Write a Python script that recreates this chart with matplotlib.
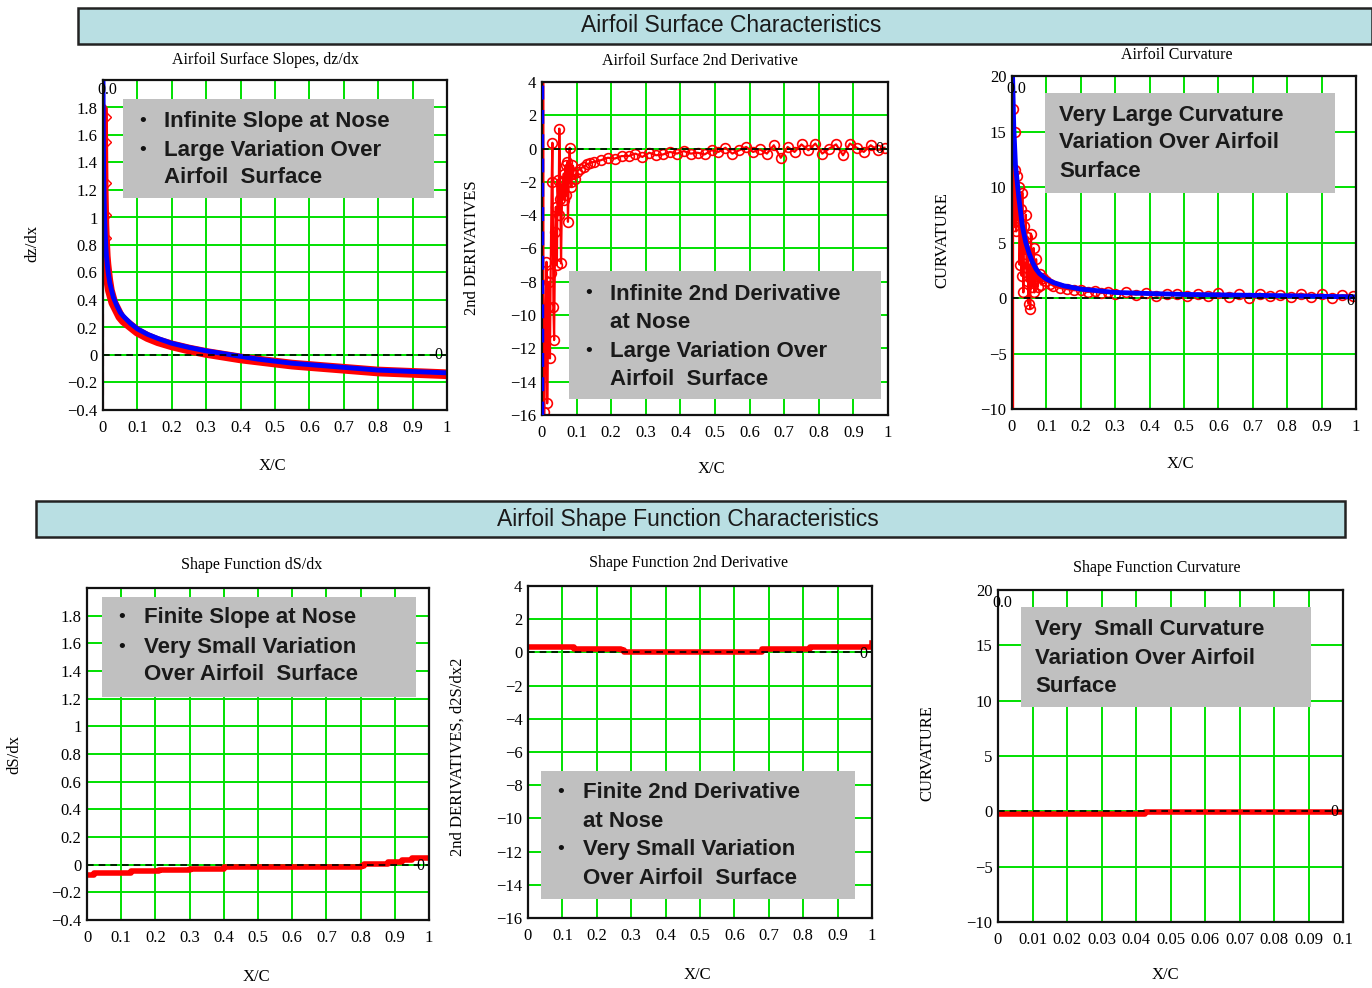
import matplotlib
matplotlib.use("Agg")
import matplotlib.pyplot as plt
from matplotlib.patches import Rectangle

W, H = 1372, 988
fig = plt.figure(figsize=(W / 100, H / 100), dpi=100)
fig.patch.set_facecolor("white")

SERIF = ["Liberation Serif", "DejaVu Serif"]
SANS = ["Liberation Sans", "DejaVu Sans"]
GREEN = "#00e000"
RED = "#ff0000"
BLUE = "#0000ff"
BOXGRAY = "#c0c0c0"
BANNER = "#b9dfe3"

# ---------------- data ----------------
# Panel 1: airfoil surface slopes dz/dx
slope_x = [0.0, 0.001, 0.002, 0.004, 0.006, 0.008, 0.01, 0.015, 0.02, 0.03, 0.04, 0.05,
           0.06, 0.08, 0.10, 0.13, 0.16, 0.20, 0.25, 0.30, 0.35, 0.40, 0.45, 0.50,
           0.55, 0.60, 0.65, 0.70, 0.75, 0.80, 0.85, 0.90, 0.95, 1.00]
slope_fit = [2.05, 1.60, 1.30, 1.05, 0.90, 0.80, 0.72, 0.60, 0.52, 0.42, 0.36, 0.31,
             0.28, 0.23, 0.19, 0.15, 0.12, 0.085, 0.055, 0.03, 0.01, -0.01, -0.03, -0.045,
             -0.06, -0.07, -0.08, -0.09, -0.10, -0.11, -0.115, -0.12, -0.125, -0.13]
slope_data = [1.80, 1.45, 1.20, 0.95, 0.82, 0.72, 0.66, 0.55, 0.47, 0.38, 0.33, 0.28,
              0.25, 0.21, 0.17, 0.13, 0.10, 0.07, 0.04, 0.015, -0.005, -0.025, -0.04, -0.055,
              -0.07, -0.08, -0.09, -0.10, -0.11, -0.12, -0.125, -0.13, -0.135, -0.14]
slope_nose_x = [0.008, 0.008, 0.008, 0.008, 0.008]
slope_nose_y = [1.73, 1.55, 1.25, 1.02, 0.85]

# Panel 2: airfoil surface 2nd derivative
d2_x = [0.004, 0.004, 0.007, 0.010, 0.013, 0.015, 0.018, 0.020, 0.023, 0.025, 0.028,
        0.030, 0.033, 0.035, 0.038, 0.040, 0.043, 0.045, 0.048, 0.050, 0.053, 0.055,
        0.058, 0.060, 0.063, 0.065, 0.068, 0.070, 0.073, 0.075, 0.078, 0.080, 0.083,
        0.085, 0.088, 0.090, 0.095, 0.100, 0.11, 0.12, 0.13, 0.14, 0.15, 0.17, 0.19,
        0.21, 0.23, 0.25, 0.27, 0.29, 0.31, 0.33, 0.35, 0.37, 0.39, 0.41, 0.43, 0.45,
        0.47, 0.49, 0.51, 0.53, 0.55, 0.57, 0.59, 0.61, 0.63, 0.65, 0.67, 0.69, 0.71,
        0.73, 0.75, 0.77, 0.79, 0.81, 0.83, 0.85, 0.87, 0.89, 0.91, 0.93, 0.95, 0.97,
        0.99]
d2_y = [30.0, -40.0, -15.8, -9.8, -6.8, -15.3, -9.5, -8.0, -12.6, -7.5, -2.0,
        0.35, -9.5, -11.5, -5.0, -3.5, -7.0, -1.9, -4.0, 1.2, -3.0, -6.9,
        -2.5, -2.0, -1.5, -3.1, -1.0, -2.8, -0.8, -4.4, -1.2, 0.05, -2.0,
        -2.3, -1.0, -1.5, -1.8, -1.4, -1.2, -1.1, -0.95, -0.85, -0.8, -0.7, -0.55,
        -0.6, -0.45, -0.45, -0.3, -0.5, -0.25, -0.4, -0.35, -0.2, -0.3, -0.15, -0.3, -0.25,
        -0.35, -0.1, -0.2, 0.05, -0.3, -0.1, 0.1, -0.2, -0.05, -0.3, 0.2, -0.55, 0.1,
        -0.2, 0.25, -0.1, 0.3, -0.3, 0.0, 0.25, -0.4, 0.3, 0.05, -0.2, 0.2, -0.1,
        0.05]

# Panel 3: airfoil curvature
curv_x = [0.0, 0.002, 0.005, 0.01, 0.015, 0.02, 0.03, 0.04, 0.05, 0.06, 0.07, 0.08,
          0.10, 0.12, 0.15, 0.20, 0.25, 0.30, 0.40, 0.50, 0.60, 0.70, 0.80, 0.90, 1.00]
curv_fit = [22.0, 19.5, 15.5, 12.0, 10.5, 9.0, 6.5, 5.0, 4.0, 3.2, 2.6, 2.2,
            1.7, 1.4, 1.1, 0.8, 0.65, 0.5, 0.4, 0.32, 0.28, 0.24, 0.2, 0.15, 0.1]
curv_dx = [0.003, 0.003, 0.004, 0.006, 0.008, 0.010, 0.012, 0.015, 0.018, 0.020, 0.022,
           0.025, 0.028, 0.030, 0.033, 0.035, 0.038, 0.040, 0.043, 0.045, 0.048, 0.050,
           0.053, 0.055, 0.058, 0.060, 0.063, 0.065, 0.068, 0.070, 0.075, 0.080, 0.085,
           0.09, 0.10, 0.11, 0.12, 0.14, 0.16, 0.18, 0.20, 0.22, 0.24, 0.26, 0.28, 0.30,
           0.33, 0.36, 0.39, 0.42, 0.45, 0.48, 0.51, 0.54, 0.57, 0.60, 0.63, 0.66, 0.69,
           0.72, 0.75, 0.78, 0.81, 0.84, 0.87, 0.90, 0.93, 0.96, 0.99]
curv_dy = [-14.0, 17.0, 8.0, 6.5, 15.0, 11.5, 6.0, 11.0, 7.0, 10.0, 3.0,
           8.0, 2.0, 9.5, 0.5, 6.5, 4.0, 7.5, 1.5, 5.5, -0.5, 3.0,
           -1.0, 5.8, 1.0, 2.5, 4.5, 0.5, 2.0, 3.5, 1.0, 2.2, 1.2,
           1.8, 1.5, 1.3, 1.1, 0.9, 0.8, 0.7, 0.7, 0.55, 0.6, 0.45, 0.5, 0.4,
           0.5, 0.3, 0.45, 0.2, 0.4, 0.35, 0.15, 0.4, 0.2, 0.45, 0.1, 0.35, 0.0,
           0.4, 0.15, 0.3, 0.05, 0.4, 0.1, 0.35, 0.0, 0.25, 0.2]

# Panel 4: shape function dS/dx
sf1_x = [0.0, 0.02, 0.13, 0.21, 0.30, 0.40, 0.80, 0.81, 0.88, 0.92, 0.95, 1.00]
sf1_y = [-0.075, -0.06, -0.048, -0.035, -0.028, -0.018, -0.012, 0.005, 0.02, 0.035,
         0.045, 0.045]

# Panel 5: shape function 2nd derivative
sf2_x = [0.0, 0.135, 0.27, 0.28, 0.68, 0.82, 0.99, 1.00]
sf2_y = [0.35, 0.23, 0.12, 0.05, 0.2, 0.35, 0.35, 0.55]

# Panel 6: shape function curvature (X/C from 0 to 0.1)
sf3_x = [0.0, 0.042, 0.0425, 0.1]
sf3_y = [-0.22, -0.22, -0.02, -0.02]


# ---------------- helpers ----------------
def fx(px):
    return px / W


def fy(py):
    return 1 - py / H


def make_axes(x0, y0, x1, y1):
    return fig.add_axes([fx(x0), fy(y1), (x1 - x0) / W, (y1 - y0) / H])


def style(ax, xlim, ylim, xt, xl, yt, yl):
    ax.set_xlim(*xlim)
    ax.set_ylim(*ylim)
    ax.set_xticks(xt)
    ax.set_xticklabels(xl, family=SERIF, fontsize=12)
    ax.set_yticks(yt)
    ax.set_yticklabels(yl, family=SERIF, fontsize=12)
    ax.tick_params(axis="x", length=0, pad=7)
    ax.tick_params(axis="y", length=0, pad=4)
    ax.grid(True, color=GREEN, lw=1.4)
    ax.set_axisbelow(True)
    for s in ax.spines.values():
        s.set_color("#111111")
        s.set_linewidth(1.6)
        s.set_zorder(6)
    ax.axhline(0, color="black", lw=1.2, ls=(0, (4, 3)), zorder=5)


def note(x0, y0, x1, y1, lines, tx, ty_list, fs=16):
    fig.patches.append(Rectangle((fx(x0), fy(y1)), (x1 - x0) / W, (y1 - y0) / H,
                                 transform=fig.transFigure, facecolor=BOXGRAY,
                                 edgecolor="none", zorder=10))
    for (bullet, txt), ty in zip(lines, ty_list):
        if bullet:
            fig.text(fx(x0 + 20), fy(ty), "\u2022", family=SANS, fontsize=fs - 2,
                     va="center", ha="center", zorder=11, color="#111111")
        fig.text(fx(tx), fy(ty), txt, family=SANS, fontsize=fs, weight="bold",
                 va="center", ha="left", zorder=11, color="#1a1a1a")


def ftext(px, py, s, **kw):
    fig.text(fx(px), fy(py), s, **kw)


def mark(ax, xp, yp, s):
    ax.text(xp, yp, s, family=SERIF, fontsize=11.5, ha="center", va="center",
            zorder=8, clip_on=False)


xt10 = [i / 10 for i in range(11)]
xl10 = ["0"] + [f"0.{i}" for i in range(1, 10)] + ["1"]

# ---------------- banners ----------------
fig.patches.append(Rectangle((fx(78), fy(44)), (1372 - 78) / W, 36 / H,
                             transform=fig.transFigure, facecolor=BANNER,
                             edgecolor="#222222", lw=1.8, zorder=1))
ftext(731, 26, "Airfoil Surface Characteristics", family=SANS, fontsize=16.5,
      ha="center", va="center", color="#1a1a1a")
fig.patches.append(Rectangle((fx(36), fy(537)), (1345 - 36) / W, 36 / H,
                             transform=fig.transFigure, facecolor=BANNER,
                             edgecolor="#222222", lw=1.8, zorder=1))
ftext(688, 519, "Airfoil Shape Function Characteristics", family=SANS, fontsize=16.5,
      ha="center", va="center", color="#1a1a1a")

# ---------------- Panel 1 ----------------
ax1 = make_axes(103, 80, 447, 410)
yt1 = [-0.4 + 0.2 * i for i in range(13)]
yl1 = ["\u22120.4", "\u22120.2", "0", "0.2", "0.4", "0.6", "0.8", "1", "1.2", "1.4",
       "1.6", "1.8", ""]
style(ax1, (0, 1), (-0.4, 2.0), xt10, xl10, yt1, yl1)
ax1.plot(slope_x, slope_data, color=RED, lw=7, zorder=3, solid_capstyle="butt")
ax1.plot(slope_x, slope_data, "o", color=RED, mfc="none", ms=4, mew=1, zorder=3)
ax1.plot(slope_nose_x, slope_nose_y, color=RED, lw=1.5, marker="D", mfc="none",
         ms=5, zorder=3)
ax1.plot([0.001, 0.001], [-0.4, 0.6], color=RED, lw=1.5, ls=(0, (4, 3)), zorder=3)
ax1.plot(slope_x, slope_fit, color=BLUE, lw=3.5, zorder=4)
mark(ax1, 0.012, 1.93, "0.0")
mark(ax1, 0.975, 0.0, "0")
ftext(265, 60, "Airfoil Surface Slopes, dz/dx", family=SERIF, fontsize=11.5,
      ha="center", va="center")
ftext(272, 466, "X/C", family=SERIF, fontsize=12, ha="center", va="center")
ftext(32, 243, "dz/dx", family=SERIF, fontsize=12, ha="center", va="center",
      rotation=90)
note(123, 99, 434, 198, [(True, "Infinite Slope at Nose"),
                         (True, "Large Variation Over"),
                         (False, "Airfoil  Surface")], 164, [122, 150, 177])

# ---------------- Panel 2 ----------------
ax2 = make_axes(542, 82, 888, 415)
yt2 = list(range(-16, 5, 2))
yl2 = [("\u2212" + str(-v)) if v < 0 else str(v) for v in yt2]
style(ax2, (0, 1), (-16, 4), xt10, xl10, yt2, yl2)
ax2.plot(d2_x, d2_y, color=RED, lw=1.6, marker="o", mfc="none", ms=7, mew=1.2,
         zorder=3)
ax2.axvline(0, color=BLUE, lw=2.5, ls=(0, (4, 3)), zorder=7)
mark(ax2, 0.975, 0.0, "0")
ftext(700, 61, "Airfoil Surface 2nd Derivative", family=SERIF, fontsize=11.5,
      ha="center", va="center")
ftext(711, 469, "X/C", family=SERIF, fontsize=12, ha="center", va="center")
ftext(472, 248, "2nd DERIVATIVES", family=SERIF, fontsize=12, ha="center",
      va="center", rotation=90)
note(569, 271, 881, 399, [(True, "Infinite 2nd Derivative"),
                          (False, "at Nose"),
                          (True, "Large Variation Over"),
                          (False, "Airfoil  Surface")], 610, [294, 322, 351, 379])

# ---------------- Panel 3 ----------------
ax3 = make_axes(1012, 76, 1356, 409)
yt3 = list(range(-10, 21, 5))
yl3 = [("\u2212" + str(-v)) if v < 0 else str(v) for v in yt3]
style(ax3, (0, 1), (-10, 20), xt10, xl10, yt3, yl3)
ax3.plot(curv_dx, curv_dy, color=RED, lw=1.6, marker="o", mfc="none", ms=7, mew=1.2,
         zorder=3)
ax3.plot(curv_x, curv_fit, color=BLUE, lw=3.5, zorder=4)
mark(ax3, 0.012, 18.8, "0.0")
mark(ax3, 0.985, -0.3, "0")
ftext(1177, 55, "Airfoil Curvature", family=SERIF, fontsize=11.5, ha="center",
      va="center")
ftext(1180, 464, "X/C", family=SERIF, fontsize=12, ha="center", va="center")
ftext(942, 240, "CURVATURE", family=SERIF, fontsize=12, ha="center", va="center",
      rotation=90)
note(1045, 93, 1335, 193, [(False, "Very Large Curvature"),
                           (False, "Variation Over Airfoil"),
                           (False, "Surface")], 1059, [116, 143, 171])

# ---------------- Panel 4 ----------------
ax4 = make_axes(87, 588, 429, 920)
style(ax4, (0, 1), (-0.4, 2.0), xt10, xl10, yt1, yl1)
ax4.plot(sf1_x, sf1_y, color=RED, lw=4, drawstyle="steps-post", zorder=3)
mark(ax4, 0.975, -0.01, "0")
ftext(252, 565, "Shape Function dS/dx", family=SERIF, fontsize=11.5, ha="center",
      va="center")
ftext(256, 977, "X/C", family=SERIF, fontsize=12, ha="center", va="center")
ftext(14, 755, "dS/dx", family=SERIF, fontsize=12, ha="center", va="center",
      rotation=90)
note(102, 597, 416, 697, [(True, "Finite Slope at Nose"),
                          (True, "Very Small Variation"),
                          (False, "Over Airfoil  Surface")], 144, [618, 647, 675])

# ---------------- Panel 5 ----------------
ax5 = make_axes(528, 586, 872, 918)
style(ax5, (0, 1), (-16, 4), xt10, xl10, yt2, yl2)
ax5.plot(sf2_x, sf2_y, color=RED, lw=4, drawstyle="steps-post", zorder=3)
mark(ax5, 0.975, -0.1, "0")
ftext(688, 563, "Shape Function 2nd Derivative", family=SERIF, fontsize=11.5,
      ha="center", va="center")
ftext(697, 975, "X/C", family=SERIF, fontsize=12, ha="center", va="center")
ftext(458, 757, "2nd DERIVATIVES, d2S/dx2", family=SERIF, fontsize=12,
      ha="center", va="center", rotation=90)
note(541, 771, 855, 899, [(True, "Finite 2nd Derivative"),
                          (False, "at Nose"),
                          (True, "Very Small Variation"),
                          (False, "Over Airfoil  Surface")], 583, [792, 821, 849, 878])

# ---------------- Panel 6 ----------------
ax6 = make_axes(998, 590, 1343, 922)
xt6 = [i / 100 for i in range(11)]
xl6 = ["0"] + [f"0.{i:02d}" for i in range(1, 10)] + ["0.1"]
style(ax6, (0, 0.1), (-10, 20), xt6, xl6, yt3, yl3)
ax6.plot(sf3_x, sf3_y, color=RED, lw=4, drawstyle="steps-post", zorder=3)
mark(ax6, 0.0012, 18.8, "0.0")
mark(ax6, 0.0975, -0.1, "0")
ftext(1157, 568, "Shape Function Curvature", family=SERIF, fontsize=11.5,
      ha="center", va="center")
ftext(1165, 975, "X/C", family=SERIF, fontsize=12, ha="center", va="center")
ftext(927, 753, "CURVATURE", family=SERIF, fontsize=12, ha="center", va="center",
      rotation=90)
note(1021, 607, 1311, 707, [(False, "Very  Small Curvature"),
                            (False, "Variation Over Airfoil"),
                            (False, "Surface")], 1035, [630, 658, 687])

fig.savefig("out.png", dpi=100, facecolor="white")
